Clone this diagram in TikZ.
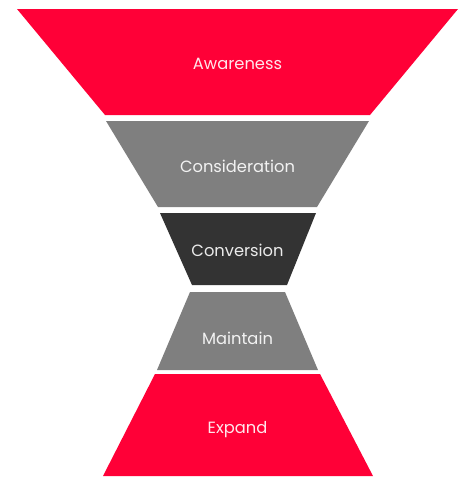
\documentclass[tikz,border=0pt]{standalone}
\usepackage{fontspec}
\setmainfont{Poppins}
\definecolor{funred}{HTML}{FF0037}
\definecolor{fungray}{HTML}{7F7F7F}
\definecolor{fundark}{HTML}{333333}
\begin{document}
\begin{tikzpicture}[x=1pt,y=-1pt,
  lbl/.style={text=white, text opacity=0.9, font=\fontsize{16.3}{18}\selectfont, inner sep=0pt, anchor=base}]
\useasboundingbox (0,0) rectangle (465,480);
\fill[funred] (17,9) -- (458,9) -- (370,115) -- (105,115) -- cycle;
\fill[fungray] (106,121) -- (369,121) -- (317,207) -- (158,207) -- cycle;
\fill[fundark] (160,213) -- (316,213) -- (287,285) -- (192,285) -- cycle;
\fill[fungray] (190,292) -- (285,292) -- (318,370) -- (157,370) -- cycle;
\fill[funred] (155,374) -- (320,374) -- (373,476) -- (103,476) -- cycle;
\node[lbl] (aw) at (237.5,69) {Awareness};
\node[lbl] (co) at (237.5,172) {Consideration};
\node[lbl] (cv) at (237.5,256) {Conversion};
\node[lbl] (ma) at (237.5,344) {Maintain};
\node[lbl] (ex) at (237.5,433) {Expand};
\end{tikzpicture}
\end{document}
